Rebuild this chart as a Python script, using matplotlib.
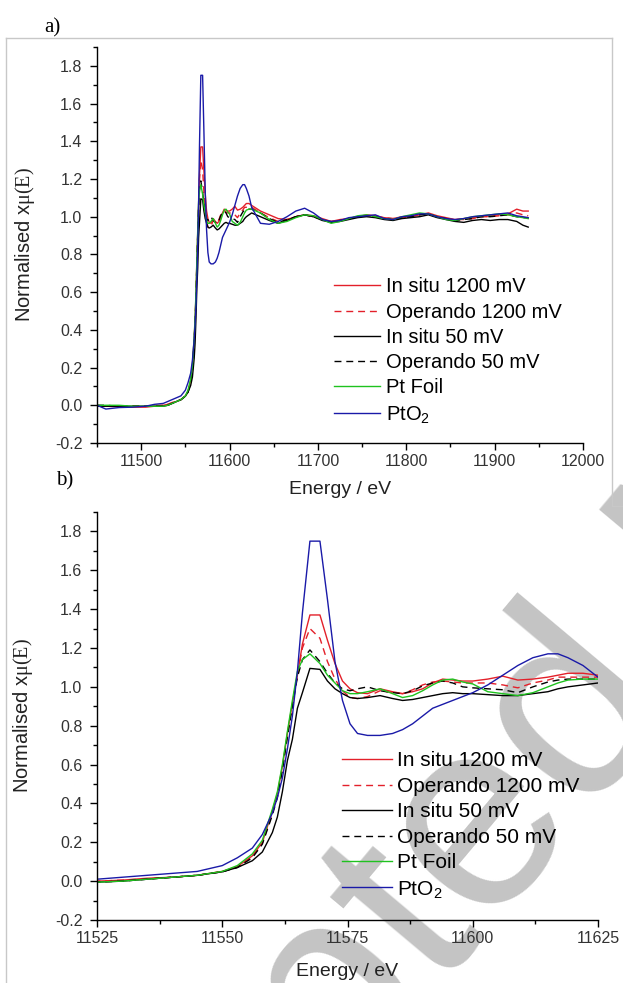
import matplotlib
matplotlib.use("Agg")
import matplotlib.pyplot as plt
from matplotlib.lines import Line2D
from matplotlib.ticker import MultipleLocator, StrMethodFormatter

# ---------------- data ----------------
energy_ev = [
    11450, 11460, 11475, 11490, 11505, 11515,
    11525, 11530, 11535, 11540, 11545, 11550, 11553, 11556, 11558, 11560,
    11561, 11562, 11563, 11564, 11565, 11566, 11567.5, 11569.5, 11571, 11572.5,
    11574, 11575.5, 11577, 11579, 11581.5, 11584, 11586, 11588, 11590, 11592,
    11594, 11596, 11598, 11600, 11603, 11606, 11609, 11612, 11615, 11617,
    11619, 11622, 11625,
    11635, 11645, 11655, 11665, 11675, 11685, 11695, 11705, 11715, 11725,
    11735, 11745, 11755, 11765, 11775, 11785, 11795, 11805, 11815, 11825,
    11835, 11845, 11855, 11865, 11875, 11885, 11895, 11905, 11915, 11925,
    11932, 11938,
]

in_situ_1200 = [
    -0.005, -0.005, -0.008, -0.01, -0.01, -0.005,
    0.0, 0.005, 0.015, 0.02, 0.03, 0.05, 0.075, 0.13, 0.20, 0.36,
    0.45, 0.59, 0.76, 0.915, 1.06, 1.22, 1.37, 1.37, 1.24, 1.12,
    1.03, 0.99, 0.97, 0.965, 0.99, 0.975, 0.965, 0.975, 0.99, 1.02,
    1.04, 1.035, 1.03, 1.03, 1.04, 1.055, 1.035, 1.04, 1.05, 1.06,
    1.07, 1.07, 1.06,
    1.03, 1.01, 0.99, 0.985, 1.0, 1.01, 1.005, 0.99, 0.975, 0.985,
    0.99, 1.0, 1.01, 1.005, 0.995, 0.99, 1.0, 1.0, 1.01, 1.02,
    1.005, 0.995, 0.985, 0.99, 0.995, 1.0, 1.005, 1.01, 1.015, 1.04,
    1.03, 1.03,
]

operando_1200 = [
    0.0, -0.005, -0.005, -0.005, -0.005, 0.0,
    0.0, 0.005, 0.012, 0.02, 0.03, 0.05, 0.072, 0.125, 0.195, 0.35,
    0.44, 0.58, 0.75, 0.91, 1.06, 1.20, 1.30, 1.25, 1.13, 1.04,
    0.98, 0.945, 0.94, 0.95, 0.98, 0.97, 0.965, 0.985, 1.01, 1.025,
    1.03, 1.025, 1.02, 1.02, 1.02, 1.01, 0.995, 1.02, 1.035, 1.05,
    1.05, 1.05, 1.05,
    1.02, 0.995, 0.975, 0.985, 1.0, 1.01, 1.0, 0.985, 0.975, 0.98,
    0.99, 1.0, 1.005, 1.0, 0.995, 0.99, 0.995, 1.0, 1.01, 1.015,
    1.0, 0.99, 0.985, 0.985, 0.99, 1.0, 1.0, 1.005, 1.01, 1.02,
    1.01, 1.005,
]

in_situ_50 = [
    -0.005, -0.005, -0.005, -0.005, -0.005, -0.005,
    -0.005, 0.0, 0.01, 0.02, 0.03, 0.048, 0.07, 0.105, 0.15, 0.25,
    0.33, 0.46, 0.62, 0.73, 0.89, 0.97, 1.095, 1.09, 1.03, 0.99,
    0.965, 0.945, 0.94, 0.945, 0.955, 0.94, 0.93, 0.935, 0.945, 0.955,
    0.965, 0.97, 0.965, 0.965, 0.96, 0.955, 0.955, 0.965, 0.975, 0.99,
    1.0, 1.01, 1.02,
    1.0, 0.98, 0.965, 0.98, 1.0, 1.01, 1.0, 0.98, 0.97, 0.975,
    0.985, 0.995, 1.0, 0.995, 0.985, 0.98, 0.99, 0.995, 1.0, 1.01,
    0.995, 0.985, 0.975, 0.97, 0.98, 0.985, 0.98, 0.985, 0.985, 0.975,
    0.955, 0.945,
]

operando_50 = [
    0.0, 0.0, -0.005, -0.005, -0.005, -0.005,
    -0.005, 0.0, 0.01, 0.02, 0.03, 0.048, 0.07, 0.12, 0.19, 0.34,
    0.43, 0.57, 0.74, 0.90, 1.05, 1.14, 1.19, 1.13, 1.07, 1.02,
    0.99, 0.98, 0.99, 1.0, 0.98, 0.97, 0.965, 0.98, 1.005, 1.02,
    1.03, 1.02, 1.0, 0.995, 0.99, 0.985, 0.97, 1.0, 1.025, 1.035,
    1.04, 1.04, 1.04,
    1.02, 0.99, 0.97, 0.985, 1.0, 1.01, 1.0, 0.985, 0.97, 0.98,
    0.99, 1.0, 1.005, 1.0, 0.99, 0.985, 0.995, 1.0, 1.01, 1.015,
    1.0, 0.99, 0.98, 0.985, 0.99, 1.0, 1.0, 1.005, 1.01, 1.0,
    0.995, 0.995,
]

pt_foil = [
    0.0, 0.0, 0.0, -0.005, -0.005, -0.005,
    -0.005, 0.0, 0.01, 0.02, 0.03, 0.05, 0.08, 0.14, 0.21, 0.37,
    0.46, 0.60, 0.77, 0.93, 1.08, 1.14, 1.17, 1.12, 1.06, 1.02,
    0.98, 0.965, 0.965, 0.975, 0.99, 0.965, 0.945, 0.955, 0.98, 1.01,
    1.035, 1.04, 1.025, 1.015, 0.975, 0.965, 0.955, 0.97, 1.0, 1.02,
    1.035, 1.04, 1.04,
    1.02, 0.985, 0.965, 0.975, 0.995, 1.01, 1.005, 0.985, 0.965, 0.975,
    0.99, 1.005, 1.01, 1.0, 0.99, 0.985, 1.0, 1.01, 1.02, 1.015,
    1.0, 0.985, 0.98, 0.99, 1.0, 1.005, 1.01, 1.015, 1.01, 1.0,
    0.995, 0.99,
]

pto2 = [
    0.0, -0.02, -0.012, -0.01, -0.005, 0.005,
    0.01, 0.02, 0.03, 0.04, 0.05, 0.08, 0.12, 0.17, 0.24, 0.35,
    0.43, 0.53, 0.68, 0.85, 1.08, 1.38, 1.75, 1.75, 1.45, 1.13,
    0.93, 0.81, 0.76, 0.75, 0.75, 0.76, 0.78, 0.81, 0.85, 0.89,
    0.91, 0.93, 0.95, 0.97, 1.01, 1.06, 1.11, 1.15, 1.17, 1.17,
    1.15, 1.11, 1.05,
    0.965, 0.96, 0.975, 1.0, 1.03, 1.045, 1.02, 0.985, 0.975, 0.98,
    0.995, 1.0, 1.005, 1.01, 0.99, 0.985, 1.0, 1.005, 1.015, 1.015,
    1.0, 0.99, 0.985, 0.99, 1.0, 1.005, 1.01, 1.015, 1.02, 1.005,
    1.0, 0.995,
]

series_labels = ["In situ 1200 mV", "Operando 1200 mV", "In situ 50 mV",
                 "Operando 50 mV", "Pt Foil", "PtO$_\\mathregular{2}$"]
series_values = [in_situ_1200, operando_1200, in_situ_50, operando_50, pt_foil, pto2]

panel_a_xticks = [11500, 11600, 11700, 11800, 11900, 12000]
panel_b_xticks = [11525, 11550, 11575, 11600, 11625]
y_ticks = [-0.2, 0.0, 0.2, 0.4, 0.6, 0.8, 1.0, 1.2, 1.4, 1.6, 1.8]

# ---------------- styling ----------------
plt.rcParams['font.family'] = ['Liberation Sans', 'DejaVu Sans']
plt.rcParams['mathtext.fontset'] = 'custom'
plt.rcParams['mathtext.rm'] = 'Liberation Serif'
plt.rcParams['mathtext.it'] = 'Liberation Serif:italic'
plt.rcParams['axes.unicode_minus'] = False

RED = '#e3202a'
BLUE = '#1a1aa8'
GREEN = '#1fc21f'
DASH = (0, (5, 3.5))
styles = [(RED, '-'), (RED, DASH), ('black', '-'), ('black', DASH),
          (GREEN, '-'), (BLUE, '-')]

W, H = 623, 983
fig = plt.figure(figsize=(W / 100, H / 100), dpi=100)


def fx(x):
    return x / W


def fy(y):
    return 1 - y / H


# watermark (behind the plots)
fig.text(-0.0731, -0.596, "Accepted Manuscript", rotation=50,
         rotation_mode='anchor', ha='left', va='baseline', fontsize=195,
         color='#c4c4c4', family='Liberation Sans', zorder=-5)

# light grey frame of the pasted image
frame_kw = dict(transform=fig.transFigure, color='#c8c8c8', lw=1.0)
fig.add_artist(Line2D([fx(6), fx(612)], [fy(38), fy(38)], **frame_kw))
fig.add_artist(Line2D([fx(6), fx(6)], [fy(38), fy(983)], **frame_kw))
fig.add_artist(Line2D([fx(612), fx(612)], [fy(38), fy(506)], **frame_kw))
fig.add_artist(Line2D([fx(612), fx(623)], [fy(506), fy(506)], **frame_kw))

ax_a = fig.add_axes([fx(97), fy(443), (583 - 97) / W, (443 - 47) / H])
ax_b = fig.add_axes([fx(97), fy(920), (598 - 97) / W, (920 - 512) / H])

for ax, xlim, xticks, xminor in [(ax_a, (11450, 12000), panel_a_xticks, 50),
                                 (ax_b, (11525, 11625), panel_b_xticks, 12.5)]:
    ax.set_facecolor('none')
    for vals, lab, (c, ls) in zip(series_values, series_labels, styles):
        ax.plot(energy_ev, vals, color=c, linestyle=ls, lw=1.0, label=lab)
    ax.set_xlim(*xlim)
    ax.set_ylim(-0.2, 1.9)
    ax.set_xticks(xticks)
    ax.set_yticks(y_ticks)
    ax.xaxis.set_minor_locator(MultipleLocator(xminor))
    ax.yaxis.set_minor_locator(MultipleLocator(0.1))
    ax.yaxis.set_major_formatter(StrMethodFormatter('{x:.1f}'))
    for s in ('top', 'right'):
        ax.spines[s].set_visible(False)
    for s in ('left', 'bottom'):
        ax.spines[s].set_linewidth(1.0)
    ax.tick_params(which='major', direction='out', length=5, width=1.0,
                   labelsize=11.5, labelcolor='#333333')
    ax.tick_params(which='minor', direction='out', length=3, width=1.0)
    ax.tick_params(axis='x', which='major', pad=3)
    ax.tick_params(axis='y', which='major', pad=5.5)
    ax.set_xlabel("Energy / eV", fontsize=14, color='#222222')
    ax.set_ylabel("Normalised x$\\mathrm{\\mu(E)}$", fontsize=14.5, color='#222222')
    ax.yaxis.set_label_coords(-0.124, 0.5)

ax_a.xaxis.set_label_coords(0.5, -0.095)
ax_b.xaxis.set_label_coords(0.5, -0.105)

ax_a.legend(loc='upper left', bbox_to_anchor=(0.4877, 0.418), frameon=False,
            fontsize=14.5, handlelength=2.28, handletextpad=0.3,
            labelspacing=0.31, borderpad=0, borderaxespad=0)
ax_b.legend(loc='upper left', bbox_to_anchor=(0.489, 0.413), frameon=False,
            fontsize=15, handlelength=2.38, handletextpad=0.25,
            labelspacing=0.31, borderpad=0, borderaxespad=0)

fig.text(fx(52), fy(28), "a)", family='Liberation Serif', fontsize=15,
         ha='center', va='center')
fig.text(fx(65), fy(481), "b)", family='Liberation Serif', fontsize=15,
         ha='center', va='center')

fig.savefig("out.png", dpi=100)
